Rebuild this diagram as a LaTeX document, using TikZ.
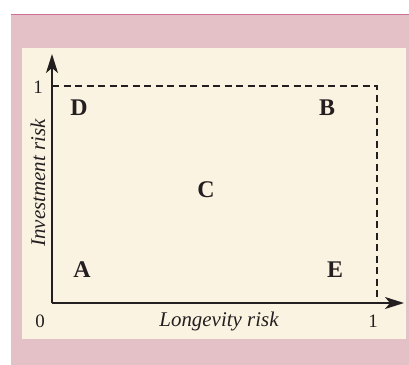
\documentclass[tikz,border=0pt]{standalone}
\usepackage{fontspec}
\setmainfont{Liberation Serif}
\usetikzlibrary{arrows.meta,positioning}
\definecolor{boxpink}{RGB}{227,193,199}
\definecolor{rulepink}{RGB}{204,110,150}
\definecolor{panelcream}{RGB}{251,243,226}
\definecolor{inkdark}{RGB}{35,31,32}

\begin{document}
\begin{tikzpicture}[x=1bp,y=-1bp,
    axis/.style={draw=inkdark, line width=1.7bp, -{Stealth[length=19bp,width=12bp,inset=5bp]}},
    bound/.style={draw=inkdark, line width=1.7bp, dash pattern=on 7bp off 4.5bp},
    zone/.style={font=\fontsize{24}{26}\selectfont\bfseries, text=inkdark},
    axislabel/.style={font=\fontsize{21}{23}\selectfont\itshape, text=inkdark},
    tick/.style={font=\fontsize{19}{21}\selectfont, text=inkdark}
]
    % frame
    \useasboundingbox (0,0) rectangle (409,365);
    \fill[white] (0,0) rectangle (409,365);
    \fill[boxpink] (11,14) rectangle (409,365);
    \draw[rulepink, line width=0.8bp] (11,14) -- (409,14);
    \fill[panelcream] (22,48) rectangle (406,339);

    % axes
    \coordinate (O) at (52,303);
    \coordinate (ytip) at (52,54);
    \coordinate (xtip) at (404,303);
    \coordinate (Ytop) at (52,86);
    \coordinate (corner) at (377,86);
    \coordinate (Xone) at (377,303);
    \draw[bound] (Ytop) -- (corner) -- (Xone);
    \draw[axis] (O) -- (ytip);
    \draw[axis] (O) -- (xtip);

    % ticks and axis labels
    \node[tick] (zero) at (40,321) {0};
    \node[tick] (yone) at (38,87) {1};
    \node[tick] (xone) at (373,321) {1};
    \node[axislabel] (xlab) at (219,321) {Longevity risk};
    \node[axislabel, rotate=90] (ylab) at (38,183) {Investment risk};

    % zones
    \node[zone] (D) at (79,108) {D};
    \node[zone] (B) at (327,108) {B};
    \node[zone] (C) at (206,190) {C};
    \node[zone] (A) at (82,270) {A};
    \node[zone] (E) at (335,270) {E};
\end{tikzpicture}
\end{document}
